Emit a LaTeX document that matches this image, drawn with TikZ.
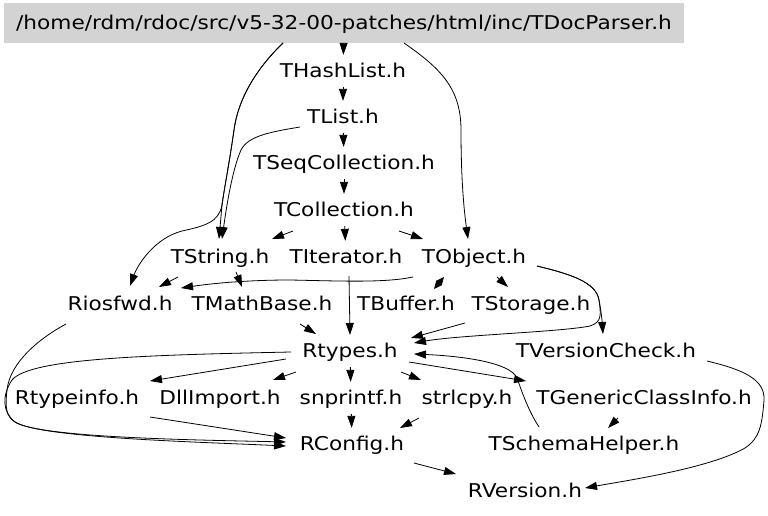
\documentclass[tikz,border=0pt]{standalone}
\usepackage{fontspec}
\setmainfont[FakeStretch=1.14]{DejaVu Sans}
\usetikzlibrary{arrows.meta}
\definecolor{titlegray}{HTML}{D3D3D3}
\begin{document}
\begin{tikzpicture}[x=1pt,y=-1pt,
  lbl/.style={font=\fontsize{19pt}{22pt}\selectfont, text height=13.85pt, text depth=0pt, inner xsep=3pt, inner ysep=9pt},
  titlebox/.style={lbl, fill=titlegray, minimum width=680pt, minimum height=40pt, inner ysep=0pt},
  conn/.style={draw, line width=0.8pt, -{Triangle[length=12pt,width=8pt]}},
  biconn/.style={draw, line width=0.8pt, {Triangle[length=8pt,width=7pt]}-{Triangle[length=8pt,width=7pt]}}]
\useasboundingbox (0,0) rectangle (768,516);

\node[titlebox] (title) at (344,23) {/home/rdm/rdoc/src/v5-32-00-patches/html/inc/TDocParser.h};
\node[lbl] (hash) at (343,71) {THashList.h};
\node[lbl] (tlist) at (343,117) {TList.h};
\node[lbl] (seq) at (344,163) {TSeqCollection.h};
\node[lbl] (coll) at (344,210) {TCollection.h};
\node[lbl] (tstring) at (220,257) {TString.h};
\node[lbl] (titer) at (346,257) {TIterator.h};
\node[lbl] (tobj) at (474,257) {TObject.h};
\node[lbl] (rios) at (120,304) {Riosfwd.h};
\node[lbl] (tmath) at (262,304) {TMathBase.h};
\node[lbl] (tbuf) at (406,304) {TBuffer.h};
\node[lbl] (tstor) at (531,304) {TStorage.h};
\node[lbl] (rtypes) at (350,351) {Rtypes.h};
\node[lbl] (tver) at (606,351) {TVersionCheck.h};
\node[lbl] (rtinfo) at (77,398) {Rtypeinfo.h};
\node[lbl] (dll) at (220,398) {DllImport.h};
\node[lbl] (snp) at (351,398) {snprintf.h};
\node[lbl] (strl) at (467,398) {strlcpy.h};
\node[lbl] (tgen) at (644,398) {TGenericClassInfo.h};
\node[lbl] (rconf) at (352,444) {RConfig.h};
\node[lbl] (tsch) at (584,444) {TSchemaHelper.h};
\node[lbl] (rver) at (525,491) {RVersion.h};

\draw[conn] (title) -- (hash);
\draw[conn] (hash) -- (tlist);
\draw[conn] (tlist) -- (seq);
\draw[conn] (seq) -- (coll);
\draw[conn] ([shift={(-51,21)}]coll.center) -- ([shift={(52,-18)}]tstring.center);
\draw[conn] (coll) -- (titer);
\draw[conn] ([shift={(55,21)}]coll.center) -- ([shift={(-51,-18)}]tobj.center);

\draw[conn] ([shift={(60,20)}]title.center) .. controls (440,68) and (461,88) .. (461,130) .. controls (461,180) and (464,210) .. ([shift={(-6,-18)}]tobj.center);
\draw[conn] ([shift={(-61,20)}]title.center) .. controls (255,70) and (238,100) .. (234,130) .. controls (229,165) and (224,190) .. (222,205) -- ([shift={(-1,-18)}]tstring.center);
\draw[conn] ([shift={(-61,20)}]title.center) .. controls (255,70) and (238,100) .. (234,130) .. controls (229,165) and (224,190) .. (222,205) .. controls (219,222) and (205,226) .. (182,231) .. controls (155,238) and (138,264) .. ([shift={(10,-18)}]rios.center);
\draw[conn] ([shift={(-43,10)}]tlist.center) .. controls (270,132) and (248,136) .. (241,150) .. controls (232,170) and (226,210) .. ([shift={(2,-18)}]tstring.center);

\draw[conn] ([shift={(-42,20)}]tstring.center) -- ([shift={(39,-17)}]rios.center);
\draw[conn] ([shift={(16,15)}]tstring.center) -- ([shift={(-20,-17)}]tmath.center);
\draw[conn] ([shift={(-61,20)}]tobj.center) .. controls (385,283) and (340,281) .. (290,280) .. controls (250,280) and (215,283) .. ([shift={(61,-16)}]rios.center);
\draw[biconn] ([shift={(-30,20)}]tobj.center) -- ([shift={(28,-15)}]tbuf.center);
\draw[conn] ([shift={(23,20)}]tobj.center) -- ([shift={(-23,-17)}]tstor.center);
\draw[conn] ([shift={(63,9)}]tobj.center) .. controls (570,274) and (596,282) .. (599,300) .. controls (601,310) and (602,320) .. ([shift={(-3,-17)}]tver.center);
\draw[conn] ([shift={(63,9)}]tobj.center) .. controls (570,274) and (596,282) .. (599,300) .. controls (601,315) and (602,322) .. (590,326) .. controls (560,332) and (460,335) .. ([shift={(64,-8)}]rtypes.center);

\draw[conn] ([shift={(3,19)}]titer.center) -- ([shift={(0,-16)}]rtypes.center);
\draw[conn] ([shift={(38,20)}]tmath.center) -- ([shift={(-34,-17)}]rtypes.center);
\draw[conn] ([shift={(-66,19)}]tstor.center) -- ([shift={(61,-13)}]rtypes.center);
\draw[conn] ([shift={(101,10)}]tver.center) .. controls (745,370) and (765,380) .. (764,400) .. controls (762,425) and (760,438) .. (745,448) .. controls (710,468) and (630,480) .. ([shift={(60,-3)}]rver.center);

\draw[conn] ([shift={(-64,8)}]rtypes.center) -- ([shift={(73,-17)}]rtinfo.center);
\draw[conn] ([shift={(-54,21)}]rtypes.center) -- ([shift={(53,-18)}]dll.center);
\draw[conn] (rtypes) -- (snp);
\draw[conn] ([shift={(51,21)}]rtypes.center) -- ([shift={(-46,-18)}]strl.center);
\draw[conn] ([shift={(59,11)}]rtypes.center) -- ([shift={(-118,-17)}]tgen.center);
\draw[conn] ([shift={(-45,-17)}]tsch.center) .. controls (528,410) and (522,392) .. (517,378) .. controls (510,362) and (460,356) .. ([shift={(64,3)}]rtypes.center);

\draw[conn] ([shift={(-59,1)}]rtypes.center) .. controls (150,355) and (30,358) .. (12,380) .. controls (2,395) and (2,412) .. (15,422) .. controls (40,438) and (200,440) .. ([shift={(-66,-2)}]rconf.center);
\draw[conn] ([shift={(-54,20)}]rios.center) .. controls (40,338) and (10,362) .. (7,390) .. controls (5,408) and (6,416) .. (15,422) .. controls (40,438) and (200,442) .. ([shift={(-66,2)}]rconf.center);
\draw[conn] ([shift={(73,19)}]rtinfo.center) -- ([shift={(-66,-6)}]rconf.center);
\draw[conn] (snp) -- (rconf);
\draw[conn] ([shift={(-48,20)}]strl.center) -- ([shift={(48,-16)}]rconf.center);
\draw[conn] ([shift={(-26,20)}]tgen.center) -- ([shift={(24,-16)}]tsch.center);
\draw[conn] ([shift={(62,19)}]rconf.center) -- ([shift={(-69,-17)}]rver.center);
\end{tikzpicture}
\end{document}
